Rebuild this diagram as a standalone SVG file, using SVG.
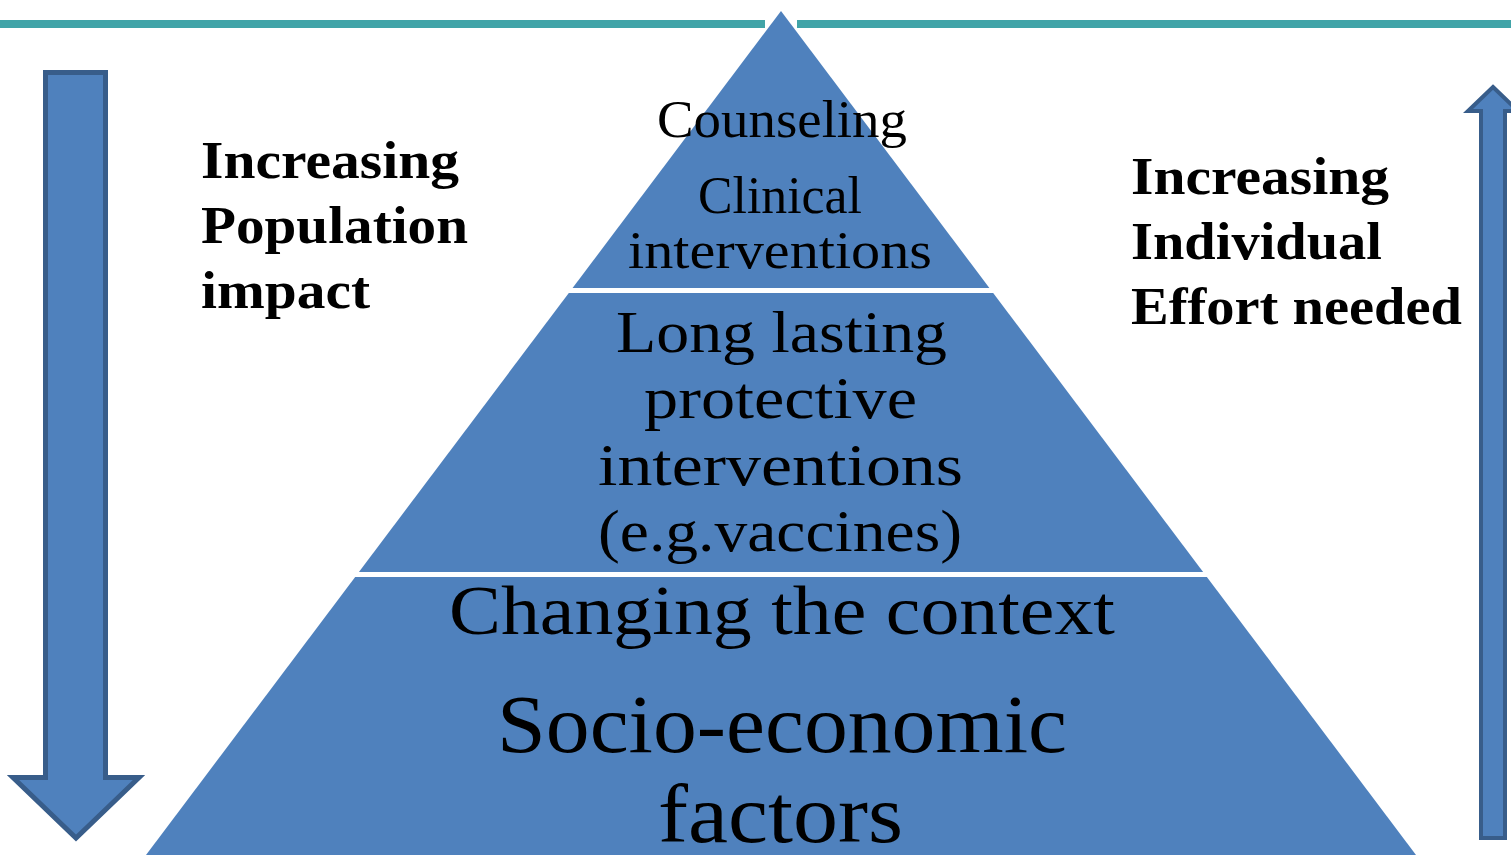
<svg xmlns="http://www.w3.org/2000/svg" width="1511" height="855" viewBox="0 0 1511 855">
<style>
.arrow{fill:#4f81bd;stroke:#385d8a;stroke-linejoin:miter}
.bold{font-family:"Liberation Serif","Times New Roman",serif;font-weight:bold;fill:#000}
.reg{font-family:"Liberation Serif","Times New Roman",serif;fill:#000;text-anchor:start}
</style>
<rect width="1511" height="855" fill="#ffffff"/>
<g id="topline">
<rect x="0" y="20" width="765" height="8" fill="#41a4a8"/>
<rect x="797" y="20" width="714" height="8" fill="#41a4a8"/>
</g>
<g id="pyramid">
<polygon points="781,11 146,855 1416,855" fill="#4f81bd"/>
<line x1="450" y1="290.5" x2="1110" y2="290.5" stroke="#ffffff" stroke-width="5"/>
<line x1="300" y1="574.5" x2="1260" y2="574.5" stroke="#ffffff" stroke-width="5"/>
</g>
<g id="arrow-down">
<path class="arrow" stroke-width="5" d="M45.5,72.5 H105.5 V777.5 H139 L76,838 L13,777.5 H45.5 Z"/>
</g>
<g id="arrow-up">
<path class="arrow" stroke-width="4" d="M1493,87 L1518,111 H1505 V838 H1481 V111 H1468 Z"/>
</g>
<g id="label-left">
<text class="bold" font-size="53" x="201" y="178" textLength="258" lengthAdjust="spacingAndGlyphs">Increasing</text>
<text class="bold" font-size="53" x="201" y="243" textLength="267" lengthAdjust="spacingAndGlyphs">Population</text>
<text class="bold" font-size="53" x="201" y="308" textLength="169" lengthAdjust="spacingAndGlyphs">impact</text>
</g>
<g id="label-right">
<text class="bold" font-size="53" x="1131" y="194" textLength="258" lengthAdjust="spacingAndGlyphs">Increasing</text>
<text class="bold" font-size="53" x="1131" y="259" textLength="251" lengthAdjust="spacingAndGlyphs">Individual</text>
<text class="bold" font-size="53" x="1131" y="324" textLength="331" lengthAdjust="spacingAndGlyphs">Effort needed</text>
</g>
<g id="tier-top">
<text class="reg" font-size="53" x="657" y="137" textLength="250" lengthAdjust="spacingAndGlyphs">Counseling</text>
<text class="reg" font-size="53" x="698" y="213" textLength="164" lengthAdjust="spacingAndGlyphs">Clinical</text>
<text class="reg" font-size="53" x="628" y="268" textLength="304" lengthAdjust="spacingAndGlyphs">interventions</text>
</g>
<g id="tier-middle">
<text class="reg" font-size="60" x="616" y="352" textLength="331" lengthAdjust="spacingAndGlyphs">Long lasting</text>
<text class="reg" font-size="60" x="644" y="418" textLength="273" lengthAdjust="spacingAndGlyphs">protective</text>
<text class="reg" font-size="60" x="598" y="485" textLength="365" lengthAdjust="spacingAndGlyphs">interventions</text>
<text class="reg" font-size="60" x="598" y="551" textLength="364" lengthAdjust="spacingAndGlyphs">(e.g.vaccines)</text>
</g>
<g id="tier-bottom">
<text class="reg" font-size="70" x="449" y="634" textLength="666" lengthAdjust="spacingAndGlyphs">Changing the context</text>
<text class="reg" font-size="82" x="497" y="752" textLength="570" lengthAdjust="spacingAndGlyphs">Socio-economic</text>
<text class="reg" font-size="82" x="658" y="842" textLength="245" lengthAdjust="spacingAndGlyphs">factors</text>
</g>
</svg>
